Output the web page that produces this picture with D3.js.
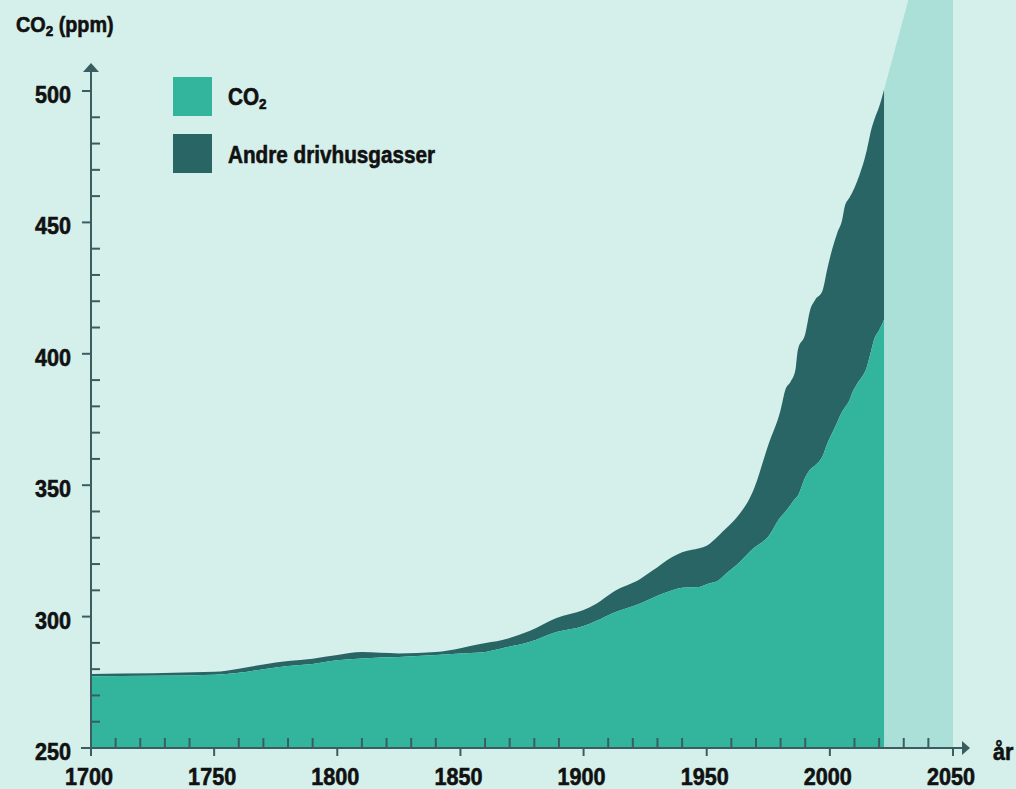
<!DOCTYPE html>
<html>
<head>
<meta charset="utf-8">
<script src="https://cdn.jsdelivr.net/npm/d3@7"></script>
<style>
  html, body { margin: 0; padding: 0; background: #d5f0eb; }
  svg { display: block; }
  text { font-family: "Liberation Sans", Arial, sans-serif; font-weight: bold; fill: #111; stroke: #111; stroke-width: 0.6px; }
</style>
</head>
<body>
<svg id="chart" width="1016" height="789"></svg>
<script>
// ---------- data ----------
const years = [1700,1750,1760,1770,1780,1790,1800,1810,1825,1840,1850,1858,1867,1878,1889,1900,1905,1912,1923,1928,1936,1940,1947,1950,1955,1958,1962,1969,1975,1980,1982,1984,1986,1987,1990,1992,1994,1997,1999,2001,2003,2005,2006,2008,2009,2011,2015,2017,2018,2020,2022];
const co2 = [277.3,277.9,278.6,280.0,281.2,282.0,283.4,284.1,284.6,285.4,286.0,286.3,288.0,290.3,294.1,296.4,298.3,301.4,305.0,307.1,310.0,311.0,311.3,312.3,313.9,316.5,319.5,326.0,330.5,337.9,340.0,342.5,345.0,346.0,353.0,356.0,357.5,361.0,366.0,370.0,374.0,378.0,379.5,382.4,385.0,388.5,395.0,402.0,405.5,409.0,413.0];
const total = [278.2,279.0,280.2,281.8,283.1,284.0,285.4,286.5,286.0,286.5,288.0,289.6,291.1,294.5,299.5,302.5,304.8,309.4,314.3,317.5,322.7,324.5,326.0,327.0,331.0,333.7,337.5,348.2,365.3,378.6,386.5,389.3,393.8,401.4,407.5,416.7,420.5,424.0,432.5,440.0,446.0,451.0,455.9,459.5,461.2,465.5,477.5,486.0,489.0,494.0,500.5];
const projYears = [2022, 2034];
const projTop = [500.5, 542];
const projEnd = 2050;
const xTicks = [1700,1750,1800,1850,1900,1950,2000,2050];
const yTicks = [250,300,350,400,450,500];
const seriesNames = ["CO\u2082", "Andre drivhusgasser"];
const colors = { co2: "#32b59c", other: "#2a6566", proj: "#aae0d8", axis: "#3a5d61" };

// ---------- scales ----------
const svg = d3.select("#chart");
const x = d3.scaleLinear().domain([1700, 2050]).range([91, 953]);
const y = d3.scaleLinear().domain([250, 500]).range([748, 91]);

const rows = years.map((yr, i) => ({ year: yr, co2: co2[i], total: total[i] }));

// condensed text helper
const SX = 0.9;
function addText(parent, px, py, size, anchor) {
  return parent.append("g").attr("transform", `translate(${px},${py}) scale(${SX},1)`)
    .append("text").attr("font-size", size).attr("text-anchor", anchor || "start");
}

// projection band
const yTop = y(projTop[0]);
const slope = (y(projTop[1]) - y(projTop[0])) / (x(projYears[1]) - x(projYears[0]));
const xAtTop = x(projYears[0]) + (0 - yTop) / slope;
svg.append("path")
  .attr("d", `M${x(projYears[0])},${y(250)} L${x(projYears[0])},${yTop} L${xAtTop},0 L${x(projEnd)},0 L${x(projEnd)},${y(250)} Z`)
  .attr("fill", colors.proj);

// areas
const curve = d3.curveMonotoneX;
svg.append("path")
  .datum(rows)
  .attr("fill", colors.other)
  .attr("d", d3.area().curve(curve).x(d => x(d.year)).y0(d => y(d.co2)).y1(d => y(d.total)));
svg.append("path")
  .datum(rows)
  .attr("fill", colors.co2)
  .attr("d", d3.area().curve(curve).x(d => x(d.year)).y0(y(250)).y1(d => y(d.co2)));

// ---------- axes ----------
const ax = svg.append("g").attr("stroke", colors.axis).attr("stroke-width", 2).attr("fill", "none");
ax.append("line").attr("x1", 81).attr("x2", 964).attr("y1", y(250)).attr("y2", y(250));
svg.append("path").attr("d", `M962,${y(250)-7} L970,${y(250)} L962,${y(250)+7} Z`).attr("fill", colors.axis);
ax.append("line").attr("x1", x(1700)).attr("x2", x(1700)).attr("y1", y(250)).attr("y2", 70);
svg.append("path").attr("d", `M${x(1700)-8},72 L${x(1700)},63 L${x(1700)+8},72 Z`).attr("fill", colors.axis);

const xMinor = d3.range(1710, 2050, 10).filter(v => v % 50 !== 0);
ax.selectAll(".xm").data(xMinor).enter().append("line")
  .attr("x1", d => x(d)).attr("x2", d => x(d)).attr("y1", y(250)).attr("y2", y(250) - 10);
ax.selectAll(".xM").data(xTicks).enter().append("line")
  .attr("x1", d => x(d)).attr("x2", d => x(d)).attr("y1", y(250)).attr("y2", y(250) + 8);
const yMinor = d3.range(260, 500, 10).filter(v => v % 50 !== 0);
ax.selectAll(".ym").data(yMinor).enter().append("line")
  .attr("x1", x(1700)).attr("x2", x(1700) + 9).attr("y1", d => y(d)).attr("y2", d => y(d));
ax.selectAll(".yM").data(yTicks).enter().append("line")
  .attr("x1", x(1700) - 9).attr("x2", x(1700)).attr("y1", d => y(d)).attr("y2", d => y(d));

// tick labels
xTicks.forEach(d => addText(svg, x(d) - 2, 785, 24, "middle").text(d));
yTicks.forEach(d => addText(svg, 71, y(d) + 12, 24, "end").text(d));

// axis titles
const t = addText(svg, 16, 32, 22, "start");
t.append("tspan").text("CO");
t.append("tspan").attr("font-size", 15).attr("dy", 4).text("2");
t.append("tspan").attr("dy", -4).text(" (ppm)");
addText(svg, 993, 760, 24, "start").text("år");

// legend
const legend = svg.append("g");
legend.append("rect").attr("x", 173).attr("y", 77).attr("width", 39).attr("height", 39).attr("fill", colors.co2);
legend.append("rect").attr("x", 173).attr("y", 134).attr("width", 39).attr("height", 39).attr("fill", colors.other);
const l1 = addText(legend, 228, 105, 23, "start");
l1.append("tspan").text("CO");
l1.append("tspan").attr("font-size", 15).attr("dy", 4).text("2");
addText(legend, 228, 163, 23, "start").text(seriesNames[1]);
</script>
</body>
</html>
